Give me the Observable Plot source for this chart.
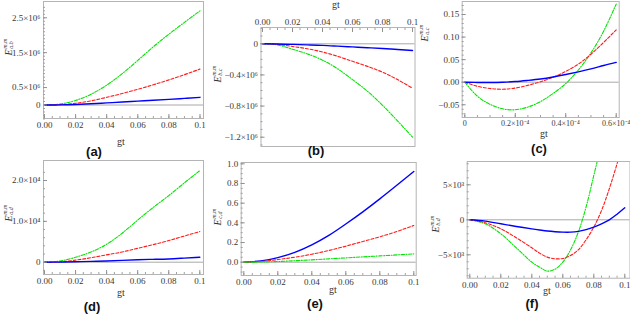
<!DOCTYPE html>
<html><head><meta charset="utf-8">
<script src="https://cdn.jsdelivr.net/npm/d3@7"></script>
<script src="https://cdn.jsdelivr.net/npm/@observablehq/plot@0.6"></script>
<style>
body{margin:0;background:#fff}
#chart{position:relative;width:630px;height:315px;overflow:hidden;background:#fff}
#chart svg{position:absolute;left:0;top:0}
.lab{position:absolute;transform:translateX(-50%);font-family:"Liberation Sans",Arial,sans-serif;font-weight:bold;font-size:13px;line-height:13px;color:#111;white-space:nowrap}
.gt{position:absolute;transform:translate(-50%,-50%);font-family:"Liberation Serif",serif;font-size:10px;line-height:10px;color:#333}
.ylab{position:absolute;transform:translate(-50%,-50%) rotate(-90deg);font-family:"Liberation Serif",serif;font-style:italic;color:#333;white-space:nowrap;display:flex;align-items:center}
.ylab .E{font-size:10px}
.ylab .ss{display:inline-flex;flex-direction:column;font-size:6px;line-height:6px;margin-left:0.5px}
</style></head><body><div id="chart"></div>
<script>
// ---- data ----
const gt = [0, 0.01, 0.02, 0.03, 0.04, 0.05, 0.06, 0.07, 0.08, 0.09, 0.1];
// (a) E_{a,b}  (×10^6)
const aGreen = [0, 0.03, 0.13, 0.31, 0.57, 0.90, 1.28, 1.67, 2.03, 2.37, 2.70];
const aRed   = [0, 0.01, 0.05, 0.12, 0.22, 0.33, 0.45, 0.58, 0.72, 0.87, 1.03];
const aBlue  = [0, 0.003, 0.015, 0.035, 0.06, 0.085, 0.11, 0.135, 0.16, 0.19, 0.22];
// (b) E_{b,c}  (×10^6)
const bGreen = [0, -0.015, -0.07, -0.13, -0.21, -0.32, -0.46, -0.61, -0.79, -0.99, -1.20];
const bRed   = [0, -0.008, -0.034, -0.064, -0.105, -0.16, -0.225, -0.29, -0.365, -0.46, -0.57];
const bBlue  = [0, -0.002, -0.008, -0.014, -0.02, -0.03, -0.04, -0.05, -0.06, -0.073, -0.086];
// (c) E_{a,c}
const gtC    = [0, 0.05e-4, 0.1e-4, 0.15e-4, 0.2e-4, 0.25e-4, 0.3e-4, 0.35e-4, 0.4e-4, 0.45e-4, 0.5e-4, 0.55e-4, 0.6e-4];
const cGreen = [0, -0.031, -0.049, -0.059, -0.061, -0.055, -0.043, -0.025, -0.003, 0.027, 0.065, 0.113, 0.173];
const cRed   = [0, -0.009, -0.014, -0.0155, -0.013, -0.007, 0.001, 0.011, 0.024, 0.040, 0.062, 0.088, 0.116];
const cBlue  = [0, -0.0005, -0.0005, 0, 0.0015, 0.004, 0.007, 0.0115, 0.017, 0.023, 0.0295, 0.037, 0.044];
// (d) E_{a,d}  (×10^4)
const dGreen = [0, 0.03, 0.12, 0.25, 0.44, 0.71, 1.03, 1.34, 1.63, 1.94, 2.24];
const dRed   = [0, 0.01, 0.05, 0.11, 0.18, 0.25, 0.34, 0.43, 0.53, 0.64, 0.75];
const dBlue  = [0, 0.003, 0.01, 0.02, 0.03, 0.045, 0.06, 0.07, 0.08, 0.10, 0.12];
// (e) E_{c,d}
const eBlue  = [0, 0.014, 0.047, 0.10, 0.176, 0.272, 0.388, 0.512, 0.644, 0.782, 0.922];
const eRed   = [0, 0.007, 0.027, 0.051, 0.081, 0.119, 0.163, 0.21, 0.258, 0.312, 0.373];
const eGreen = [0, 0.002, 0.007, 0.015, 0.024, 0.034, 0.044, 0.054, 0.064, 0.074, 0.085];
// (f) E_{b,d}  (×10^3)
const gtF    = [0, 0.01, 0.02, 0.03, 0.04, 0.045, 0.05, 0.055, 0.06, 0.065, 0.07, 0.075, 0.08, 0.085, 0.09, 0.095, 0.1];
const fBlue  = [0, -0.19, -0.57, -0.95, -1.29, -1.45, -1.6, -1.7, -1.76, -1.76, -1.65, -1.4, -1.05, -0.58, 0, 0.8, 1.71];
const fRed   = [0, -0.43, -1.29, -2.57, -4.0, -4.76, -5.33, -5.57, -5.52, -5.1, -4.29, -2.86, -1.05, 1.33, 4.43, 8.0, 11.8];
const fGreen = [0, -0.57, -2.0, -4.0, -6.05, -6.76, -7.33, -7.05, -6.05, -4.29, -1.76, 1.81, 6.33, 10.9, 15.5, 20, 25];

// tick values and labels
const xTicks = [0, 0.02, 0.04, 0.06, 0.08, 0.1];
const xTickLabels = ["0.00", "0.02", "0.04", "0.06", "0.08", "0.1"];
const xTicksC = [0, 0.2e-4, 0.4e-4, 0.6e-4];
const xTickLabelsC = ["0", "0.2×10⁻⁴", "0.4×10⁻⁴", "0.6×10⁻⁴"];
const yTicksA = [0, 0.5, 1.5, 2.5];
const yTickLabelsA = ["0", "0.5×10⁶", "1.5×10⁶", "2.5×10⁶"];
const yTicksB = [0, -0.4, -0.8, -1.2];
const yTickLabelsB = ["0", "−0.4×10⁶", "−0.8×10⁶", "−1.2×10⁶"];
const yTicksC = [-0.05, 0, 0.05, 0.10, 0.15];
const yTickLabelsC = ["−0.05", "0.00", "0.05", "0.10", "0.15"];
const yTicksD = [0, 1, 2];
const yTickLabelsD = ["0", "1.0×10⁴", "2.0×10⁴"];
const yTicksE = [0, 0.2, 0.4, 0.6, 0.8, 1.0];
const yTickLabelsE = ["0.0", "0.2", "0.4", "0.6", "0.8", "1.0"];
const yTicksF = [-5, 0, 5];
const yTickLabelsF = ["−5×10³", "0", "5×10³"];

const panelNames = ["(a)", "(b)", "(c)", "(d)", "(e)", "(f)"];
const yLabelSubs = ["a,b", "b,c", "a,c", "a,d", "c,d", "b,d"];

// ---- drawing ----
const W = 630, H = 315;
const FONT = "'Liberation Serif', 'Times New Roman', serif";
const chart = document.getElementById("chart");
const styles = {
  green: {stroke: "#00e400", strokeWidth: 1.1, strokeDasharray: "3.5,1.5,1,1.5"},
  red:   {stroke: "#ff1a1a", strokeWidth: 1.1, strokeDasharray: "3,1.8"},
  blue:  {stroke: "#0000ff", strokeWidth: 1.4}
};

function seriesRows(xs, ys) { return xs.map((x, i) => ({x, y: ys[i]})); }

function panel(p) {
  const [l, t, r, b] = p.frame;
  const xMap = new Map(p.xTicks.map((v, i) => [v, p.xLabels[i]]));
  const yMap = new Map(p.yTicks.map((v, i) => [v, p.yLabels[i]]));
  const xMinor = d3.range(Math.round(p.xDomainFull[0] / p.xMinorStep), Math.round(p.xDomainFull[1] / p.xMinorStep) + 1).map(k => k * p.xMinorStep);
  const yMinor = d3.range(Math.ceil(p.yDomainFull[0] / p.yMinorStep), Math.floor(p.yDomainFull[1] / p.yMinorStep) + 1).map(k => k * p.yMinorStep);
  const txt = {fontFamily: FONT, fill: "#3a3a3a", label: null};
  const marks = [
    Plot.ruleY([0], {stroke: "#a8a8a8", strokeWidth: 1}),
    ...p.series.map(s => Plot.line(seriesRows(s.x, s.y), {x: "x", y: "y", curve: p.curve || "natural", clip: true, ...styles[s.c]})),
    Plot.frame({stroke: "#b4b4b4"}),
    Plot.axisX(xMinor, {anchor: p.xAnchor, tickSize: -2, stroke: "#a0a0a0", tickFormat: () => "", label: null}),
    Plot.axisX(p.xTicks, {anchor: p.xAnchor, tickSize: -4, stroke: "#909090", tickFormat: () => "", label: null}),
    Plot.axisX(p.xTicks, {anchor: p.xAnchor, tickSize: 0, tickPadding: 3, tickFormat: d => xMap.get(d), fontSize: p.xFontSize || 9, ...txt}),
    Plot.axisY(yMinor, {anchor: "left", tickSize: -2, stroke: "#a0a0a0", tickFormat: () => "", label: null}),
    Plot.axisY(p.yTicks, {anchor: "left", tickSize: -4, stroke: "#909090", tickFormat: () => "", label: null}),
    Plot.axisY(p.yTicks, {anchor: "left", tickSize: 0, tickPadding: 3, tickFormat: d => yMap.get(d), fontSize: 9, ...txt})
  ];
  const svg = Plot.plot({
    width: W, height: H,
    marginLeft: l, marginRight: W - r, marginTop: t, marginBottom: H - b,
    style: {background: "transparent", fontFamily: FONT, fontSize: "9px", overflow: "visible"},
    x: {type: "linear", domain: p.xDomain, range: p.xRange, label: null},
    y: {type: "linear", domain: p.yDomain, range: p.yRange, label: null},
    marks
  });
  chart.appendChild(svg);
}

const P = [
  {frame: [43, 1, 203, 118], xAnchor: "bottom",
   xDomain: [0, 0.1], xRange: [44, 199.5], xDomainFull: [0, 0.1], xMinorStep: 0.005,
   yDomain: [0, 2.5], yRange: [104.5, 17.3], yDomainFull: [-0.4, 2.9], yMinorStep: 0.1,
   xTicks, xLabels: xTickLabels, yTicks: yTicksA, yLabels: yTickLabelsA,
   series: [{x: gt, y: aGreen, c: "green"}, {x: gt, y: aRed, c: "red"}, {x: gt, y: aBlue, c: "blue"}]},
  {frame: [260.5, 27, 414.5, 146], xAnchor: "top",
   xDomain: [0, 0.1], xRange: [262, 412], xDomainFull: [0, 0.1], xMinorStep: 0.005,
   yDomain: [0, -1.2], yRange: [43.3, 136.7], yDomainFull: [-1.3, 0.2], yMinorStep: 0.1,
   xTicks, xLabels: xTickLabels, yTicks: yTicksB, yLabels: yTickLabelsB,
   series: [{x: gt, y: bGreen, c: "green"}, {x: gt, y: bRed, c: "red"}, {x: gt, y: bBlue, c: "blue"}]},
  {frame: [461.7, 1, 618.7, 117], xAnchor: "bottom", xFontSize: 8,
   xDomain: [0, 0.6e-4], xRange: [464.3, 615.7], xDomainFull: [0, 0.6e-4], xMinorStep: 0.05e-4,
   yDomain: [0, 0.15], yRange: [81.7, 14], yDomainFull: [-0.07, 0.17], yMinorStep: 0.01,
   xTicks: xTicksC, xLabels: xTickLabelsC, yTicks: yTicksC, yLabels: yTickLabelsC,
   series: [{x: gtC, y: cGreen, c: "green"}, {x: gtC, y: cRed, c: "red"}, {x: gtC, y: cBlue, c: "blue"}]},
  {frame: [43, 160, 203, 274], xAnchor: "bottom",
   xDomain: [0, 0.1], xRange: [44, 199.3], xDomainFull: [0, 0.1], xMinorStep: 0.005,
   yDomain: [0, 2], yRange: [261.7, 180], yDomainFull: [-0.2, 2.4], yMinorStep: 0.2,
   xTicks, xLabels: xTickLabels, yTicks: yTicksD, yLabels: yTickLabelsD,
   series: [{x: gt, y: dGreen, c: "green"}, {x: gt, y: dRed, c: "red"}, {x: gt, y: dBlue, c: "blue"}]},
  {frame: [240.7, 162, 415.7, 275], xAnchor: "bottom",
   xDomain: [0, 0.1], xRange: [243.3, 413.3], xDomainFull: [0, 0.1], xMinorStep: 0.005,
   yDomain: [0, 1], yRange: [261.7, 163.3], yDomainFull: [-0.1, 1.0], yMinorStep: 0.05,
   xTicks, xLabels: xTickLabels, yTicks: yTicksE, yLabels: yTickLabelsE,
   series: [{x: gt, y: eBlue, c: "blue"}, {x: gt, y: eRed, c: "red"}, {x: gt, y: eGreen, c: "green"}]},
  {frame: [466.7, 161, 629.5, 277.7], xAnchor: "bottom", curve: "catmull-rom",
   xDomain: [0, 0.1], xRange: [469.3, 624.3], xDomainFull: [0, 0.1], xMinorStep: 0.005,
   yDomain: [0, 5], yRange: [219.3, 184.3], yDomainFull: [-8, 8], yMinorStep: 1,
   xTicks, xLabels: xTickLabels, yTicks: yTicksF, yLabels: yTickLabelsF,
   series: [{x: gtF, y: fGreen, c: "green"}, {x: gtF, y: fRed, c: "red"}, {x: gtF, y: fBlue, c: "blue"}]}
];
P.forEach(panel);

// text overlays
function addDiv(cls, html, x, y) {
  const d = document.createElement("div");
  d.className = cls; d.innerHTML = html;
  d.style.left = x + "px"; d.style.top = y + "px";
  chart.appendChild(d);
}
const labelPos = [[94, 145], [316, 144], [539, 142], [92, 300], [315, 297], [532, 297]];
const gtPos = [[121, 142], [336, 5], [544, 134], [121, 293], [333, 290], [547, 291]];
const yLabPos = [[8, 47], [217, 74], [424, 33], [8, 213], [217, 217], [435, 224]];
panelNames.forEach((n, i) => addDiv("lab", n, labelPos[i][0], labelPos[i][1]));
gtPos.forEach(([x, y]) => addDiv("gt", "gt", x, y));
yLabelSubs.forEach((s, i) => addDiv("ylab",
  `<span class="E">E</span><span class="ss"><span>m,m</span><span>${s}</span></span>`,
  yLabPos[i][0], yLabPos[i][1]));
</script></body></html>
